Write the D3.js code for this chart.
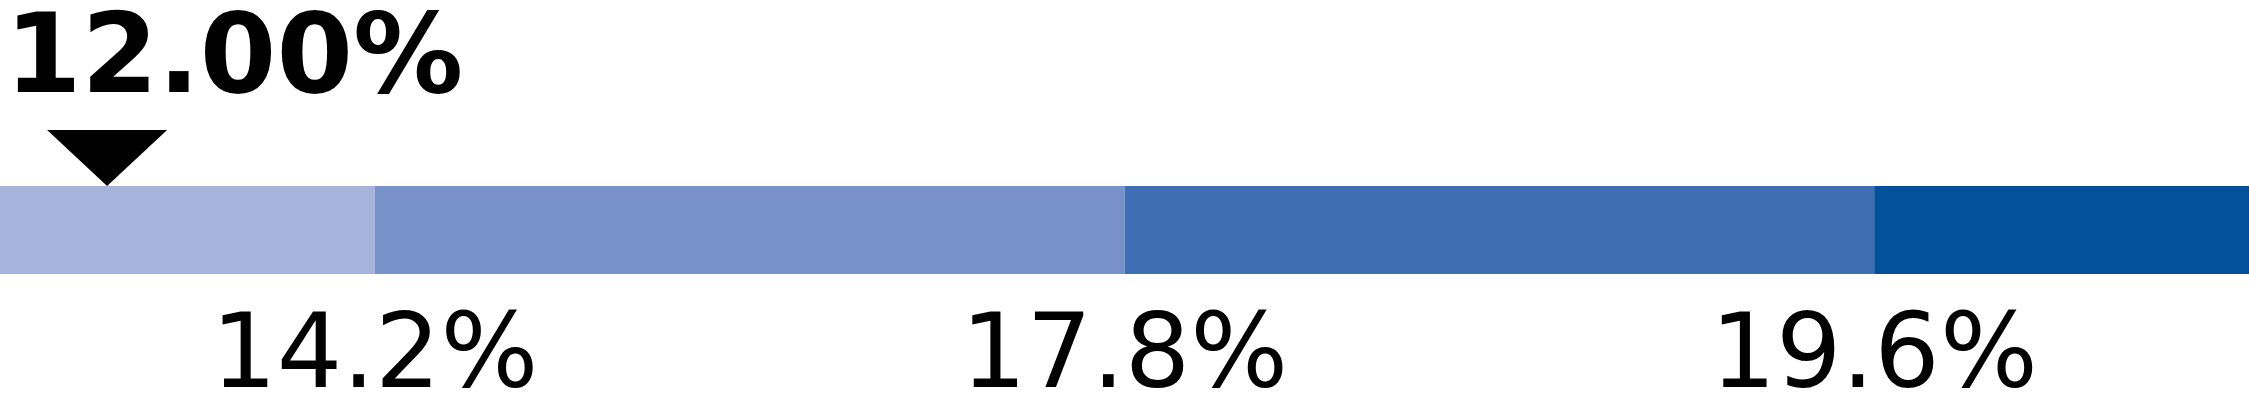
<!DOCTYPE html>
<html>
<head>
<meta charset="utf-8">
<script src="https://cdn.jsdelivr.net/npm/d3@7"></script>
<style>
  body { margin: 0; background: #fff; }
  svg { display: block; }
  text { font-family: "DejaVu Sans", Verdana, sans-serif; fill: #000; }
</style>
</head>
<body>
<svg id="chart"></svg>
<script>
// band limits, thresholds shown under the bar, current value
const scaleMin = 11.12, scaleMax = 21.4;
const thresholds = [14.2, 17.8, 19.6];
const thresholdLabels = ["14.2%", "17.8%", "19.6%"];
const bandColors = ["#a6b4dc", "#7791c9", "#3f6eb5", "#03519b"];
const currentValue = 12.0;
const currentLabel = "12.00%";

const width = 2249, height = 418;
const barTop = 186, barHeight = 88;

let svg = d3.select("#chart")
  .attr("width", width)
  .attr("height", height);

// piecewise scale: outer bands half as wide as inner ones
let stops = [scaleMin, ...thresholds, scaleMax];
let xScale = d3.scaleLinear()
  .domain(stops)
  .range([0, 1, 3, 5, 6].map(f => f / 6 * width));

let bands = d3.range(stops.length - 1).map(i => ({ from: stops[i], to: stops[i + 1], color: bandColors[i] }));

svg.append("g")
  .attr("class", "bands")
  .selectAll("rect")
  .data(bands)
  .enter()
  .append("rect")
  .attr("x", d => xScale(d.from))
  .attr("y", barTop)
  .attr("width", d => xScale(d.to) - xScale(d.from))
  .attr("height", barHeight)
  .attr("fill", d => d.color);

// threshold labels, centred on band edges
svg.append("g")
  .attr("class", "threshold-labels")
  .selectAll("text")
  .data(thresholds)
  .enter()
  .append("text")
  .attr("x", d => xScale(d))
  .attr("y", 387)
  .attr("text-anchor", "middle")
  .attr("font-size", 103)
  .text((d, i) => thresholdLabels[i]);

// marker triangle pointing at current value
let mx = xScale(currentValue);
svg.append("path")
  .attr("d", `M${mx - 60},130 L${mx + 60},130 L${mx},${barTop} Z`)
  .attr("fill", "#000");

svg.append("text")
  .attr("x", 5)
  .attr("y", 92)
  .attr("font-size", 110)
  .attr("font-weight", "bold")
  .text(currentLabel);
</script>
</body>
</html>
